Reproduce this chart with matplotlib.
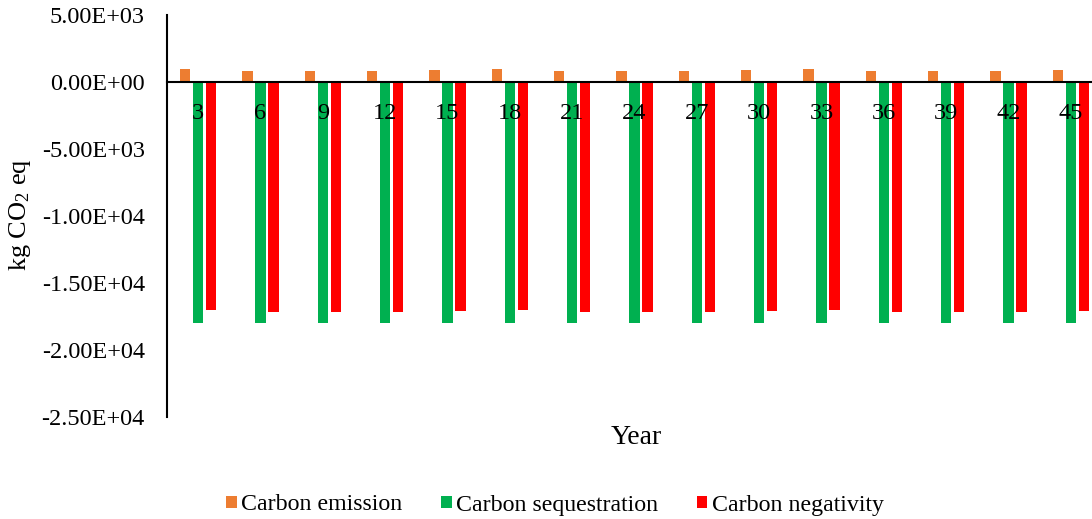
import numpy as np
from matplotlib import pyplot as plt

years = [3, 6, 9, 12, 15, 18, 21, 24, 27, 30, 33, 36, 39, 42, 45]
emission = [1000, 820, 820, 820, 900, 1000, 820, 820, 820, 900, 1000, 820, 820, 820, 900]
sequestration = [-18000] * 15
negativity = [-17000, -17180, -17180, -17180, -17100, -17000, -17180, -17180,
              -17180, -17100, -17000, -17180, -17180, -17180, -17100]
yticks = [5000, 0, -5000, -10000, -15000, -20000, -25000]

plt.rcParams['font.family'] = 'Liberation Serif'
plt.rcParams['mathtext.fontset'] = 'custom'
plt.rcParams['mathtext.rm'] = 'Liberation Serif'
plt.rcParams['mathtext.it'] = 'Liberation Serif:italic'

fig = plt.figure(figsize=(10.92, 5.19), dpi=100)
ax = fig.add_axes([167/1092, 1 - 417/519, 935/1092, 402/519])

x = np.arange(len(years))
w = 0.165
ax.bar(x - 0.21, emission, w, color='#ED7D31', label='Carbon emission')
ax.bar(x, sequestration, w, color='#00B050', label='Carbon sequestration')
ax.bar(x + 0.21, negativity, w, color='#FF0000', label='Carbon negativity')

ax.set_xlim(-0.5, len(years) - 0.5)
ax.set_ylim(-25000, 5000)
ax.set_yticks(yticks)
ax.set_yticklabels(['%.2E' % v if v != 0 else '0.00E+00' for v in yticks])
ax.set_xticks(x)
ax.set_xticklabels([str(y) for y in years])
ax.tick_params(axis='x', length=0, pad=15, labelsize=17.5)
ax.tick_params(axis='y', length=0, pad=16, labelsize=17.5)

ax.spines['top'].set_visible(False)
ax.spines['right'].set_visible(False)
ax.spines['bottom'].set_position(('data', 0))
ax.spines['bottom'].set_linewidth(1.5)
ax.spines['left'].set_linewidth(1.5)

fig.text(20/1092, 1 - 215/519, 'kg CO$_2$ eq', rotation=90, ha='center', va='center', fontsize=19)
fig.text(636/1092, 1 - 437/519, 'Year', ha='center', va='center', fontsize=20)

fig.legend(loc='center', bbox_to_anchor=(555/1092, 1 - 505/519), ncol=3, frameon=False,
           fontsize=17.2, handlelength=0.45, handleheight=0.45, handletextpad=0.2, columnspacing=1.6)

plt.savefig('out.png', dpi=100)
